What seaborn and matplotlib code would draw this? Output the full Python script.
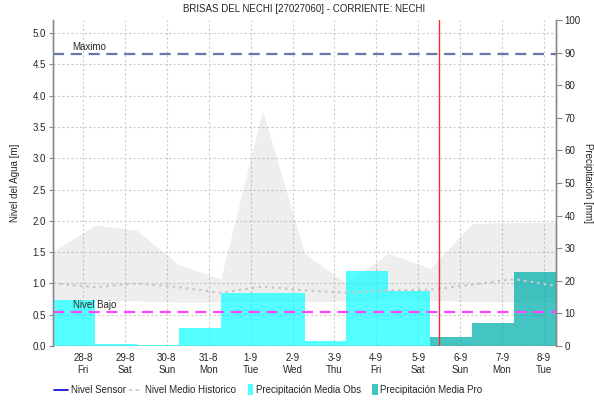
import matplotlib
matplotlib.use("Agg")
import matplotlib.pyplot as plt
import numpy as np
import pandas as pd
import seaborn as sns
from matplotlib.legend_handler import HandlerPatch
from matplotlib.lines import Line2D
from matplotlib.patches import Patch, Rectangle

# ── data ──────────────────────────────────────────────────────────────
day_labels = ["28-8", "29-8", "30-8", "31-8", "1-9", "2-9",
              "3-9", "4-9", "5-9", "6-9", "7-9", "8-9"]
weekdays = ["Fri", "Sat", "Sun", "Mon", "Tue", "Wed",
            "Thu", "Fri", "Sat", "Sun", "Mon", "Tue"]

precip_obs = [14.1, 0.5, 0.4, 5.4, 16.3, 16.3, 1.6, 23.1, 16.9]   # mm
precip_pro = [2.9, 7.1, 22.6]                                      # mm

# historic band + mean at day boundaries (13 points)
hist_upper = [1.51, 1.93, 1.85, 1.30, 1.07, 3.77, 1.48, 1.00, 1.48, 1.24, 1.96, 1.97, 1.98]
hist_lower = [0.73, 0.73, 0.72, 0.70, 0.70, 0.71, 0.71, 0.72, 0.73, 0.73, 0.71, 0.70, 0.70]
hist_mean = [1.00, 0.94, 1.00, 0.94, 0.85, 0.95, 0.89, 0.85, 0.89, 0.90, 0.98, 1.07, 0.96]

nivel_maximo = 4.67
nivel_bajo = 0.55
now_day = 9.2

# ── layout ────────────────────────────────────────────────────────────
tick_offset = 0.714
n_days = len(day_labels)
edges = np.arange(n_days + 1)
obs_df = pd.DataFrame({"x": np.arange(len(precip_obs)) + 0.5, "mm": precip_obs})
pro_df = pd.DataFrame({"x": np.arange(len(precip_obs), n_days) + 0.5, "mm": precip_pro})
hist_df = pd.DataFrame({"x": edges, "upper": hist_upper,
                        "lower": hist_lower, "mean": hist_mean})

sns.set_style("white")
plt.rcParams["font.family"] = ["Liberation Sans", "DejaVu Sans"]
fs = 7

fig = plt.figure(figsize=(5.94, 4.0), dpi=100)
ax = fig.add_axes([53 / 594, 54 / 400, 503 / 594, 326 / 400])

# grid + historic band on the level axis
ax.set_xlim(0, n_days)
ax.set_ylim(0, 5.208)
ax.set_yticks(np.arange(0, 5.01, 0.5))
ax.set_xticks(np.arange(n_days) + tick_offset)
ax.set_xticklabels([f"{d}\n{w}" for d, w in zip(day_labels, weekdays)])
ax.grid(True, color="#cccccc", linestyle=(0, (2, 2)), linewidth=0.8)
ax.fill_between(hist_df["x"], hist_df["lower"], hist_df["upper"],
                color="#808080", alpha=0.13, linewidth=0)
ax.tick_params(axis="both", labelsize=fs, length=3, color="#888888", pad=2)
ax.tick_params(axis="x", length=0, pad=5)
ax.set_ylabel("Nivel del Agua [m]", fontsize=fs, labelpad=9)

# precipitation bars on the right axis
ax2 = ax.twinx()
sns.histplot(data=obs_df, x="x", weights="mm", binwidth=1, binrange=(0, n_days),
             ax=ax2, color="#00ffff", alpha=0.67, linewidth=0, element="bars")
sns.histplot(data=pro_df, x="x", weights="mm", binwidth=1, binrange=(0, n_days),
             ax=ax2, color="#00aeae", alpha=0.73, linewidth=0, element="bars")
ax2.set_xlim(0, n_days)
ax2.set_ylim(0, 100)
ax2.set_yticks(np.arange(0, 101, 10))
ax2.tick_params(axis="y", labelsize=fs, length=4, color="#888888", pad=2)
ax2.set_ylabel("Precipitación [mm]", fontsize=fs, rotation=270, labelpad=9)

# lines on top
ax3 = ax.twinx()
ax3.set_ylim(ax.get_ylim())
ax3.set_xlim(ax.get_xlim())
sns.lineplot(data=hist_df, x="x", y="mean", ax=ax3, color="#c8c8c8",
             linestyle=(0, (1.2, 1.8)), linewidth=1.6)
ax3.axhline(nivel_maximo, color="#6a76a6", linestyle=(0, (5, 3)), linewidth=1.6)
ax3.axhline(nivel_bajo, color="#ff44ff", linestyle=(0, (5, 3)), linewidth=1.6)
ax3.axvline(now_day, color="#ff2a2a", linewidth=1.0)
ax3.text(0.45, nivel_maximo + 0.02, "Maximo", fontsize=fs, va="bottom")
ax3.text(0.48, nivel_bajo + 0.02, "Nivel Bajo", fontsize=fs, va="bottom")
ax3.set_yticks([])
ax3.set_xlabel("")
ax3.set_ylabel("")

for a in (ax, ax2, ax3):
    a.spines["top"].set_visible(False)
    a.spines["bottom"].set_visible(False)
    for s in ("left", "right"):
        a.spines[s].set_color("#888888")
        a.spines[s].set_linewidth(0.9)
ax3.axhline(0, color="#555555", linestyle=(0, (1, 1)), linewidth=1.0)

ax.set_title("BRISAS DEL NECHI [27027060] - CORRIENTE: NECHI", fontsize=fs, pad=6)


# narrow square swatches for the precipitation entries
def narrow_patch(legend, orig_handle, xdescent, ydescent, width, height, fontsize):
    w = 3.8
    return Rectangle((width - xdescent - w, -ydescent - 1.5), w, height + 3)


handles = [
    Line2D([], [], color="#0000cc", linewidth=1.2),
    Line2D([], [], color="#c8c8c8", linestyle=(0, (2, 2)), linewidth=1.2),
    Patch(facecolor="#55ffff", edgecolor="none"),
    Patch(facecolor="#44c4c4", edgecolor="none"),
]
labels = ["Nivel Sensor", "Nivel Medio Historico",
          "Precipitación Media Obs", "Precipitación Media Pro"]
fig.legend(handles, labels, loc="center", bbox_to_anchor=(0.452, 0.025),
           ncol=4, frameon=False, fontsize=fs, handlelength=1.4,
           handletextpad=0.3, columnspacing=0.3,
           handler_map={Patch: HandlerPatch(patch_func=narrow_patch)})

fig.savefig("out.png", dpi=100)
